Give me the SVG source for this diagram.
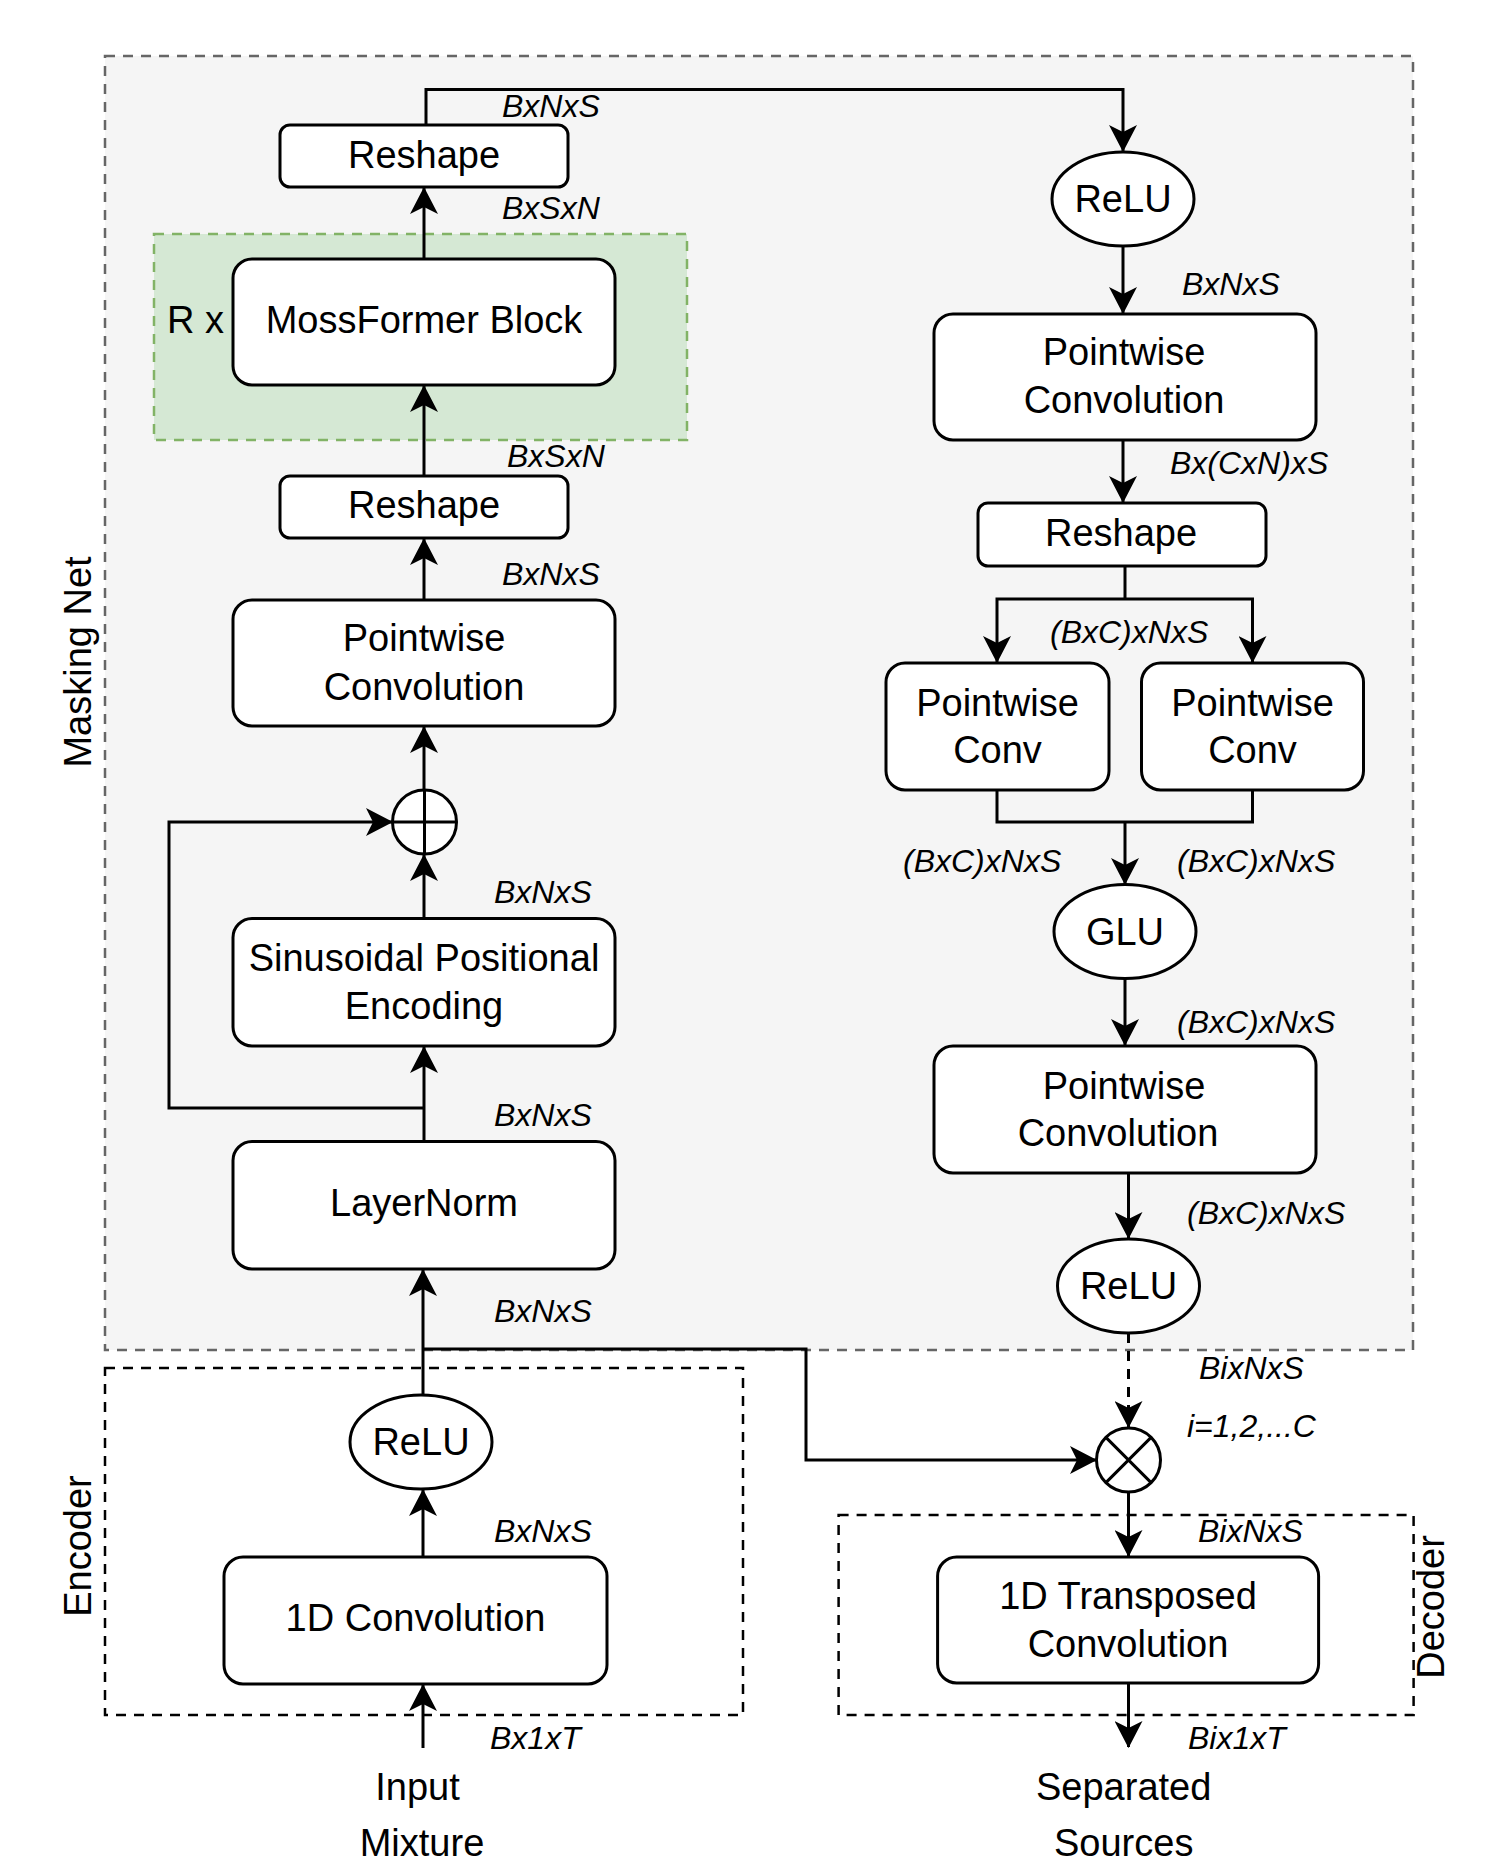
<svg xmlns="http://www.w3.org/2000/svg" width="1509" height="1870" viewBox="0 0 1509 1870">
<defs>
<style>
.node{fill:#fff;stroke:#000;stroke-width:3}
.lbl{font-family:"Liberation Sans",Arial,sans-serif;font-size:38px;text-anchor:middle;dominant-baseline:central;fill:#000}
.dim{font-family:"Liberation Sans",Arial,sans-serif;font-size:32px;font-style:italic;dominant-baseline:central;fill:#000}
.edge{fill:none;stroke:#000;stroke-width:3}
.dash{stroke-dasharray:10 8}
.grp{fill:none;stroke:#000;stroke-width:2.5;stroke-dasharray:10 8}
</style>
<marker id="arr" viewBox="0 0 27 28" refX="26" refY="14" markerWidth="27" markerHeight="28" markerUnits="userSpaceOnUse" orient="auto">
<path d="M0,0 L27,14 L0,28 L7,14 Z" fill="#000"/>
</marker>
</defs>
<rect width="1509" height="1870" fill="#fff"/>
<g id="masking-net">
<rect x="105" y="56" width="1308" height="1294" fill="#f5f5f5" stroke="#666" stroke-width="2.5" stroke-dasharray="10 8"/>
<text class="lbl" transform="translate(77.5,662) rotate(-90)">Masking Net</text>
</g>
<g id="repeat-group">
<rect x="154" y="234" width="533" height="206" fill="#d5e8d4" stroke="#82b366" stroke-width="2.5" stroke-dasharray="10 8"/>
<text class="lbl" x="167" y="320" style="text-anchor:start">R x</text>
</g>
<g id="encoder">
<rect class="grp" x="105" y="1368" width="638" height="347"/>
<text class="lbl" transform="translate(77.5,1546) rotate(-90)">Encoder</text>
</g>
<g id="decoder">
<rect class="grp" x="838.6" y="1515" width="575" height="200"/>
<text class="lbl" transform="translate(1431,1607) rotate(-90)">Decoder</text>
</g>
<g id="connectors">
<path class="edge" d="M426,125 V89.5 H1123 V151" marker-end="url(#arr)"/>
<path class="edge" d="M424,259 V188" marker-end="url(#arr)"/>
<path class="edge" d="M424,476 V386" marker-end="url(#arr)"/>
<path class="edge" d="M424,600 V539" marker-end="url(#arr)"/>
<path class="edge" d="M424,790 V727" marker-end="url(#arr)"/>
<path class="edge" d="M424,918.5 V855" marker-end="url(#arr)"/>
<path class="edge" d="M424,1141.5 V1047" marker-end="url(#arr)"/>
<path class="edge" d="M424,1108 H169 V822 H392" marker-end="url(#arr)"/>
<path class="edge" d="M423,1395 V1270" marker-end="url(#arr)"/>
<path class="edge" d="M423,1557 V1490" marker-end="url(#arr)"/>
<path class="edge" d="M423,1748 V1685" marker-end="url(#arr)"/>
<path class="edge" d="M423,1349 H806 V1460 H1096" marker-end="url(#arr)"/>
<path class="edge" d="M1123,246 V313" marker-end="url(#arr)"/>
<path class="edge" d="M1123,440 V502" marker-end="url(#arr)"/>
<path class="edge" d="M1125,566.5 V599"/>
<path class="edge" d="M1125,599 H997 V662" marker-end="url(#arr)"/>
<path class="edge" d="M1125,599 H1252.5 V662" marker-end="url(#arr)"/>
<path class="edge" d="M997,790 V822 H1252.5 V790"/>
<path class="edge" d="M1125,822 V884" marker-end="url(#arr)"/>
<path class="edge" d="M1125,978.6 V1045" marker-end="url(#arr)"/>
<path class="edge" d="M1128.5,1173 V1238" marker-end="url(#arr)"/>
<path class="edge dash" d="M1128.5,1333 V1427" marker-end="url(#arr)"/>
<path class="edge" d="M1128.5,1492 V1556" marker-end="url(#arr)"/>
<path class="edge" d="M1128.5,1683 V1747" marker-end="url(#arr)"/>
</g>
<g id="dims">
<text class="dim" x="502" y="106">BxNxS</text>
<text class="dim" x="502" y="207.5">BxSxN</text>
<text class="dim" x="507" y="456">BxSxN</text>
<text class="dim" x="502" y="574">BxNxS</text>
<text class="dim" x="494" y="892">BxNxS</text>
<text class="dim" x="494" y="1115">BxNxS</text>
<text class="dim" x="494" y="1311">BxNxS</text>
<text class="dim" x="494" y="1530.5">BxNxS</text>
<text class="dim" x="490" y="1738">Bx1xT</text>
<text class="dim" x="1182" y="284">BxNxS</text>
<text class="dim" x="1170" y="463">Bx(CxN)xS</text>
<text class="dim" x="1050" y="632">(BxC)xNxS</text>
<text class="dim" x="903" y="861">(BxC)xNxS</text>
<text class="dim" x="1177" y="861">(BxC)xNxS</text>
<text class="dim" x="1177" y="1022">(BxC)xNxS</text>
<text class="dim" x="1187" y="1213">(BxC)xNxS</text>
<text class="dim" x="1199" y="1368">BixNxS</text>
<text class="dim" x="1187" y="1425.5">i=1,2,...C</text>
<text class="dim" x="1198" y="1530.5">BixNxS</text>
<text class="dim" x="1188" y="1738">Bix1xT</text>
</g>
<g id="reshape-out">
<rect class="node" x="280" y="125" width="288" height="62" rx="10"/>
<text class="lbl" x="424" y="155">Reshape</text>
</g>
<g id="mossformer-block">
<rect class="node" x="233" y="259" width="382" height="126" rx="19"/>
<text class="lbl" x="424" y="320">MossFormer Block</text>
</g>
<g id="reshape-in">
<rect class="node" x="280" y="476" width="288" height="62" rx="10"/>
<text class="lbl" x="424" y="505">Reshape</text>
</g>
<g id="pointwise-conv-1">
<rect class="node" x="233" y="600" width="382" height="126" rx="19"/>
<text class="lbl" x="424" y="638">Pointwise</text>
<text class="lbl" x="424" y="687">Convolution</text>
</g>
<g id="add">
<circle cx="424.5" cy="822" r="32" fill="#fff" stroke="#000" stroke-width="3"/>
<path d="M392.5,822 H456.5 M424.5,790 V854" stroke="#000" stroke-width="3"/>
</g>
<g id="positional-encoding">
<rect class="node" x="233" y="918.5" width="382" height="127.5" rx="19"/>
<text class="lbl" x="424" y="958">Sinusoidal Positional</text>
<text class="lbl" x="424" y="1006">Encoding</text>
</g>
<g id="layernorm">
<rect class="node" x="233" y="1141.5" width="382" height="127.5" rx="19"/>
<text class="lbl" x="424" y="1203">LayerNorm</text>
</g>
<g id="relu-enc">
<ellipse class="node" cx="421" cy="1442" rx="71" ry="47"/>
<text class="lbl" x="421" y="1442">ReLU</text>
</g>
<g id="conv1d">
<rect class="node" x="224" y="1557" width="383" height="127" rx="19"/>
<text class="lbl" x="415.5" y="1618">1D Convolution</text>
</g>
<g id="input">
<text class="lbl" x="417.5" y="1787">Input</text>
<text class="lbl" x="422" y="1843">Mixture</text>
</g>
<g id="relu-1">
<ellipse class="node" cx="1123" cy="199" rx="71" ry="47"/>
<text class="lbl" x="1123" y="199">ReLU</text>
</g>
<g id="pointwise-conv-2">
<rect class="node" x="934" y="314" width="382" height="126" rx="19"/>
<text class="lbl" x="1124" y="352">Pointwise</text>
<text class="lbl" x="1124" y="400">Convolution</text>
</g>
<g id="reshape-mask">
<rect class="node" x="978" y="503" width="288" height="63" rx="10"/>
<text class="lbl" x="1121" y="533">Reshape</text>
</g>
<g id="pw-conv-a">
<rect class="node" x="886" y="663" width="223" height="127" rx="19"/>
<text class="lbl" x="997.5" y="703">Pointwise</text>
<text class="lbl" x="997.5" y="750">Conv</text>
</g>
<g id="pw-conv-b">
<rect class="node" x="1141.5" y="663" width="222" height="127" rx="19"/>
<text class="lbl" x="1252.5" y="703">Pointwise</text>
<text class="lbl" x="1252.5" y="750">Conv</text>
</g>
<g id="glu">
<ellipse class="node" cx="1125" cy="931.6" rx="71" ry="47"/>
<text class="lbl" x="1125" y="931.6">GLU</text>
</g>
<g id="pointwise-conv-3">
<rect class="node" x="934" y="1046" width="382" height="127" rx="19"/>
<text class="lbl" x="1124" y="1085.6">Pointwise</text>
<text class="lbl" x="1118" y="1133">Convolution</text>
</g>
<g id="relu-2">
<ellipse class="node" cx="1128.5" cy="1286" rx="71" ry="47"/>
<text class="lbl" x="1128.5" y="1286">ReLU</text>
</g>
<g id="multiply">
<circle cx="1128.5" cy="1460" r="32" fill="#fff" stroke="#000" stroke-width="3"/>
<path d="M1105.9,1437.4 L1151.1,1482.6 M1151.1,1437.4 L1105.9,1482.6" stroke="#000" stroke-width="3"/>
</g>
<g id="transposed-conv">
<rect class="node" x="937.6" y="1557" width="381" height="126" rx="19"/>
<text class="lbl" x="1128" y="1596">1D Transposed</text>
<text class="lbl" x="1128" y="1644">Convolution</text>
</g>
<g id="output">
<text class="lbl" x="1123.7" y="1787">Separated</text>
<text class="lbl" x="1123.7" y="1843">Sources</text>
</g>
</svg>
